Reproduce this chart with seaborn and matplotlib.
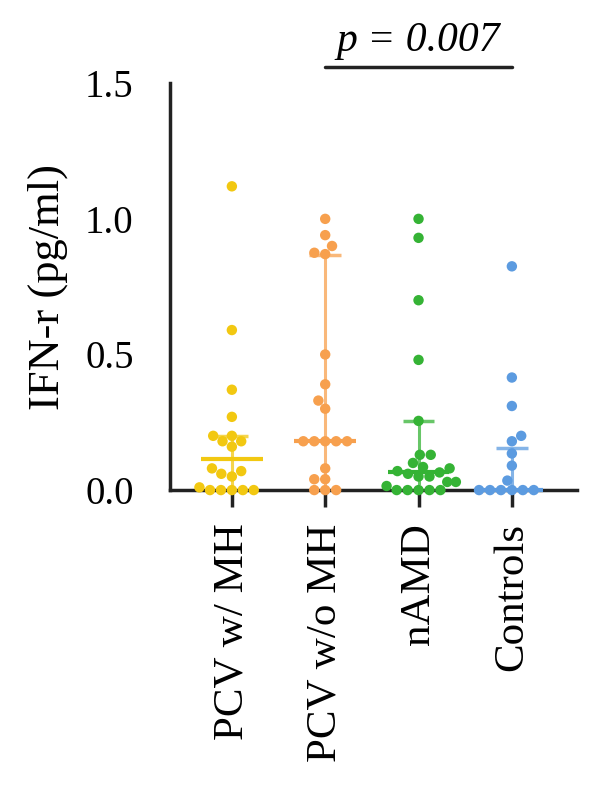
import pandas as pd
import seaborn as sns
import matplotlib.pyplot as plt
from matplotlib.ticker import FormatStrFormatter

# Values (pg/ml)
groups = ['PCV w/ MH', 'PCV w/o MH', 'nAMD', 'Controls']
pcv_mh = [1.12, 0.59, 0.37, 0.27, 0.20, 0.20, 0.18, 0.18, 0.16, 0.08, 0.07,
          0.06, 0.05, 0.01, 0.0, 0.0, 0.0, 0.0, 0.0]
pcv_wo_mh = [1.00, 0.94, 0.90, 0.875, 0.87, 0.50, 0.39, 0.33, 0.30, 0.18, 0.18,
             0.18, 0.18, 0.18, 0.08, 0.04, 0.04, 0.0, 0.0, 0.0]
namd = [1.00, 0.93, 0.70, 0.48, 0.255, 0.13, 0.13, 0.10, 0.085, 0.08, 0.07,
        0.065, 0.06, 0.05, 0.05, 0.03, 0.03, 0.015, 0.0, 0.0, 0.0, 0.0, 0.0]
controls = [0.825, 0.415, 0.31, 0.20, 0.18, 0.135, 0.09, 0.035,
            0.0, 0.0, 0.0, 0.0, 0.0, 0.0]

# Median and interquartile range shown in the figure
medians = [0.115, 0.18, 0.066, 0.0]
q1 = [0.0, 0.0, 0.02, 0.0]
q3 = [0.20, 0.865, 0.255, 0.155]

colors = ['#F2C811', '#F7A04E', '#35B335', '#5C9BE0']
p_text = 'p = 0.007'

df = pd.DataFrame({
    'group': [groups[0]] * len(pcv_mh) + [groups[1]] * len(pcv_wo_mh)
             + [groups[2]] * len(namd) + [groups[3]] * len(controls),
    'value': pcv_mh + pcv_wo_mh + namd + controls,
})

sns.set_style('white')
plt.rcParams['font.family'] = ['Liberation Serif', 'DejaVu Serif']
plt.rcParams['text.color'] = 'black'
plt.rcParams['xtick.color'] = 'black'
plt.rcParams['ytick.color'] = 'black'
plt.rcParams['axes.labelcolor'] = 'black'

fig = plt.figure(figsize=(6, 7.93), dpi=100)
ax = fig.add_axes([0.283, 0.382, 0.679, 0.513])

sns.swarmplot(data=df, x='group', y='value', hue='group', order=groups,
              palette=colors, size=7.5, legend=False, ax=ax, zorder=3, warn_thresh=1)
for coll in ax.collections:
    coll.set_clip_on(False)

# Median and IQR bars
for i, col in enumerate(colors):
    ax.vlines(i, q1[i], q3[i], color=col, lw=2.2, alpha=0.75, zorder=2, clip_on=False)
    ax.hlines(q3[i], i - 0.17, i + 0.17, color=col, lw=2.5, alpha=0.75, zorder=2, clip_on=False)
    ax.hlines(medians[i], i - 0.33, i + 0.33, color=col, lw=3, zorder=4, clip_on=False)

ax.set_xlim(-0.665, 3.70)
ax.set_ylim(0, 1.5)
ax.set_yticks([0, 0.5, 1.0, 1.5])
ax.yaxis.set_major_formatter(FormatStrFormatter('%.1f'))

for side in ['top', 'right']:
    ax.spines[side].set_visible(False)
for side in ['left', 'bottom']:
    ax.spines[side].set_linewidth(2.5)
    ax.spines[side].set_color('#222222')
    ax.spines[side].set_zorder(1)

ax.tick_params(axis='y', length=13, width=2.5, pad=13, labelsize=28, color='#222222')
ax.tick_params(axis='x', length=12, width=2.5, pad=12, labelsize=31, color='#222222',
               labelrotation=90, bottom=True)
for lab in ax.get_xticklabels():
    lab.set_va('top')

ax.set_xlabel('')
ax.set_ylabel('IFN-r (pg/ml)', fontsize=32, labelpad=12)

# Significance bar between PCV w/o MH and Controls
ax.plot([1, 3], [1.56, 1.56], color='#222222', lw=2.5, clip_on=False)
ax.text(2, 1.585, p_text, ha='center', va='bottom', fontsize=30, style='italic')

fig.savefig('out.png', dpi=100)
